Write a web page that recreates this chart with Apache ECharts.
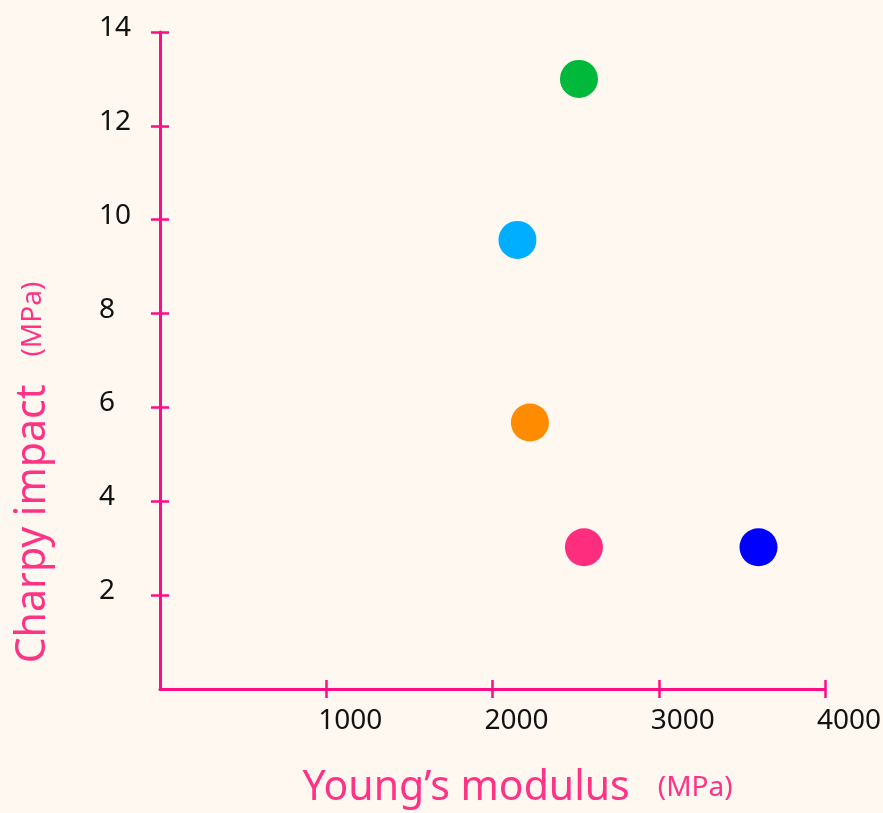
<!DOCTYPE html>
<html><head><meta charset="utf-8">
<script src="https://cdn.jsdelivr.net/npm/echarts@6/dist/echarts.min.js"></script>
<style>html,body{margin:0;padding:0;background:#fef8f1;}#c{width:883px;height:813px;}</style>
</head><body><div id="c"></div>
<script>
const youngsModulus = [2520, 2150, 2225, 2550, 3600];
const charpyImpact = [13, 9.57, 5.68, 3.02, 3.02];
const xTicks = [1000, 2000, 3000, 4000];
const yTicks = [2, 4, 6, 8, 10, 12, 14];
const xName = 'Young’s modulus';
const yName = 'Charpy impact';
const unit = '(MPa)';
const palette = ['#00b83a', '#00aeff', '#ff8c00', '#ff2d7d', '#0000ff'];

const AX = '#ff0d86';
const NAME = '#ff3385';
const FONT = 'Noto Sans';

const points = youngsModulus.map((x, i) => ({
  value: [x, charpyImpact[i]],
  itemStyle: { color: palette[i], opacity: 1 }
}));

const nameRich = {
  a: { fontSize: 41, color: NAME, fontFamily: FONT },
  b: { fontSize: 28, color: NAME, fontFamily: FONT, padding: [0, 0, 0, 28] }
};

const tickStyle = { color: AX, width: 2.5 };
const plain = v => String(v);

const chart = echarts.init(document.getElementById('c'));
chart.setOption({
  backgroundColor: '#fef8f1',
  animation: false,
  grid: { left: 160, right: 58, top: 32, bottom: 124, containLabel: false, outerBoundsMode: 'none' },
  xAxis: [
    {
      type: 'value', min: 0, max: 4000, interval: 1000, position: 'bottom',
      axisLine: { show: true, onZero: false, lineStyle: { color: AX, width: 3 } },
      axisTick: { show: true, length: 9, lineStyle: tickStyle, customValues: xTicks },
      axisLabel: { customValues: xTicks, formatter: plain, align: 'left', margin: 18, fontSize: 28, color: '#111', fontFamily: FONT, padding: [0, 0, 0, -8] },
      splitLine: { show: false },
      name: '{a|' + xName + '}{b|' + unit + '}',
      nameLocation: 'middle', nameGap: 79,
      nameTextStyle: { rich: nameRich, padding: [0, 0, 0, 50] }
    },
    {
      type: 'value', min: 0, max: 4000, interval: 1000, position: 'bottom',
      axisLine: { show: false },
      axisTick: { show: true, inside: true, length: 9, lineStyle: tickStyle, customValues: xTicks },
      axisLabel: { show: false },
      splitLine: { show: false }
    }
  ],
  yAxis: [
    {
      type: 'value', min: 0, max: 14, interval: 2, position: 'left',
      axisLine: { show: true, onZero: false, lineStyle: { color: AX, width: 3 } },
      axisTick: { show: true, length: 9, lineStyle: tickStyle, customValues: yTicks },
      axisLabel: { customValues: yTicks, formatter: plain, align: 'left', verticalAlign: 'bottom', lineHeight: 8, margin: 61, fontSize: 28, color: '#111', fontFamily: FONT },
      splitLine: { show: false },
      name: '{a|' + yName + '}{b|' + unit + '}',
      nameLocation: 'middle', nameGap: 106,
      nameTextStyle: { rich: nameRich, padding: [0, 224, 0, 0] }
    },
    {
      type: 'value', min: 0, max: 14, interval: 2, position: 'left',
      axisLine: { show: false },
      axisTick: { show: true, inside: true, length: 9, lineStyle: tickStyle, customValues: yTicks },
      axisLabel: { show: false },
      splitLine: { show: false }
    }
  ],
  series: [{
    type: 'scatter',
    xAxisIndex: 0, yAxisIndex: 0,
    symbol: 'circle', symbolSize: 38,
    data: points
  }]
});
</script></body></html>
